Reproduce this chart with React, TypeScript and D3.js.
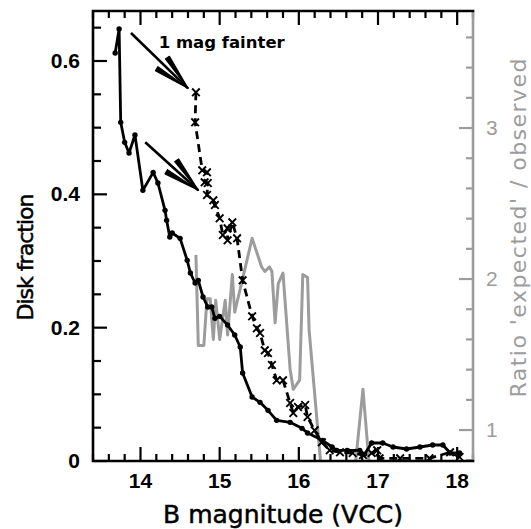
import React from "react";
import * as d3 from "d3";

// Observed disk fraction vs B magnitude (solid, dots)
const solidMag = [13.68, 13.73, 13.75, 13.8, 13.855, 13.93, 14.03, 14.16, 14.22, 14.31, 14.33, 14.37, 14.4, 14.5, 14.59, 14.63, 14.69, 14.73, 14.79, 14.85, 14.9, 14.94, 15.0, 15.1, 15.19, 15.26, 15.29, 15.41, 15.51, 15.61, 15.72, 15.89, 16.04, 16.11, 16.3, 16.42, 16.48, 16.61, 16.77, 16.83, 16.92, 17.06, 17.19, 17.36, 17.53, 17.69, 17.82, 17.91, 18.03];
const solidFrac = [0.612, 0.648, 0.508, 0.478, 0.462, 0.489, 0.406, 0.433, 0.417, 0.376, 0.361, 0.336, 0.342, 0.334, 0.301, 0.282, 0.267, 0.271, 0.246, 0.231, 0.231, 0.214, 0.217, 0.204, 0.189, 0.171, 0.132, 0.096, 0.088, 0.076, 0.061, 0.058, 0.049, 0.042, 0.031, 0.021, 0.016, 0.016, 0.016, 0.01, 0.027, 0.027, 0.021, 0.018, 0.021, 0.024, 0.024, 0.012, 0.012];

// 'Expected' disk fraction, 1 mag fainter (dashed, crosses)
const dashedMag = [14.7, 14.69, 14.78, 14.84, 14.81, 14.85, 14.84, 14.92, 14.94, 15.0, 15.04, 15.1, 15.1, 15.16, 15.22, 15.29, 15.41, 15.47, 15.51, 15.57, 15.61, 15.66, 15.72, 15.8, 15.89, 15.93, 15.99, 16.08, 16.11, 16.2, 16.29, 16.39, 16.52, 16.68, 16.81, 16.92, 16.99, 17.02, 17.28, 17.65, 17.91, 18.03];
const dashedFrac = [0.553, 0.508, 0.436, 0.433, 0.418, 0.417, 0.399, 0.391, 0.384, 0.364, 0.339, 0.349, 0.331, 0.358, 0.334, 0.271, 0.217, 0.199, 0.192, 0.166, 0.162, 0.144, 0.121, 0.121, 0.087, 0.072, 0.081, 0.084, 0.066, 0.046, 0.028, 0.016, 0.013, 0.012, 0.009, 0.012, 0.016, 0.004, 0.004, 0.004, 0.013, 0.006];

// Ratio 'expected' / observed (grey, right axis)
const ratioMag = [14.7, 14.73, 14.8, 14.84, 14.88, 14.92, 14.95, 15.0, 15.07, 15.1, 15.16, 15.19, 15.41, 15.53, 15.57, 15.63, 15.66, 15.7, 15.74, 15.8, 15.89, 15.93, 16.01, 16.05, 16.11, 16.13, 16.29, 16.5, 16.7, 16.81, 16.9, 17.5, 18.0];
const ratioVal = [2.16, 1.56, 1.56, 1.87, 1.87, 1.6, 1.86, 1.6, 1.86, 1.63, 2.03, 1.78, 2.27, 2.08, 2.05, 2.08, 2.05, 1.71, 1.97, 2.04, 1.4, 1.27, 1.33, 2.03, 2.01, 1.66, 0.7, 0.6, 0.7, 1.27, 0.7, 0.6, 0.6];

const xMajorTicks = [14, 15, 16, 17, 18];
const xTickLabels = ["14", "15", "16", "17", "18"];
const yMajorTicks = [0, 0.2, 0.4, 0.6];
const yTickLabels = ["0", "0.2", "0.4", "0.6"];
const rMajorTicks = [1, 2, 3];
const rTickLabels = ["1", "2", "3"];

// annotation arrows [tailMag, tailFrac, tipMag, tipFrac]
const arrows = [
  [13.88, 0.642, 14.6, 0.559],
  [14.06, 0.478, 14.73, 0.406],
];

const GREY = "#9c9c9c";

export default function App() {
  const W = 531, H = 529;
  const L = 93, R = 473, T = 11, B = 461;
  const x = d3.scaleLinear().domain([13.4, 18.2]).range([L, R]);
  const y = d3.scaleLinear().domain([0, 0.675]).range([B, T]);
  const yr = d3.scaleLinear().domain([0.795, 3.775]).range([B, T]);

  const xMinor = d3.range(0, 25).map((i) => +(13.4 + 0.2 * i).toFixed(2));
  const yMinor = d3.range(0, 14).map((i) => +(0.05 * i).toFixed(2));
  const rMinor = d3.range(0, 15).map((i) => +(0.8 + 0.2 * i).toFixed(2));
  const isInt = (v: number) => Math.abs(v - Math.round(v)) < 1e-6;
  const isY = (v: number) => Math.abs(v / 0.2 - Math.round(v / 0.2)) < 1e-6;

  const solid = solidMag.map((m, i) => [m, solidFrac[i]] as [number, number]);
  const dashed = dashedMag.map((m, i) => [m, dashedFrac[i]] as [number, number]);
  const ratio = ratioMag.map((m, i) => [m, ratioVal[i]] as [number, number]);

  const line = d3.line<[number, number]>().x((d) => x(d[0])).y((d) => y(d[1]));
  const rline = d3.line<[number, number]>().x((d) => x(d[0])).y((d) => yr(d[1]));

  const arrowEls = arrows.map((a, k) => {
    const x0 = x(a[0]), y0 = y(a[1]), x1 = x(a[2]), y1 = y(a[3]);
    const ang = Math.atan2(y0 - y1, x0 - x1);
    const len = 37, half = 0.21;
    const barbs = [ang + half, ang - half].map((an) => {
      const ex = x1 + len * Math.cos(an), ey = y1 + len * Math.sin(an);
      const px = -Math.sin(an) * 2.4, py = Math.cos(an) * 2.4;
      return `M${x1},${y1}L${ex + px},${ey + py}L${ex - px},${ey - py}Z`;
    });
    return (
      <g key={k}>
        <line x1={x0} y1={y0} x2={x1} y2={y1} stroke="black" strokeWidth={2.6} />
        {barbs.map((p, j) => (
          <path key={j} d={p} fill="black" stroke="black" strokeWidth={1.2} strokeLinejoin="round" />
        ))}
      </g>
    );
  });

  return (
    <svg width={W} height={H} style={{ position: "absolute", left: 0, top: 0, background: "white" }}>
      <defs>
        <clipPath id="plotclip">
          <rect x={L} y={T} width={R - L} height={B - T} />
        </clipPath>
      </defs>
      <rect x={0} y={0} width={W} height={H} fill="white" />

      {/* grey ratio curve */}
      <path d={rline(ratio) || ""} fill="none" stroke={GREY} strokeWidth={3} strokeLinejoin="round" clipPath="url(#plotclip)" />

      {/* dashed expected curve */}
      <g clipPath="url(#plotclip)">
        <path d={line(dashed) || ""} fill="none" stroke="black" strokeWidth={2.8} strokeDasharray="8,5" />
        {dashed.map((d, i) => {
          const cx = x(d[0]), cy = y(d[1]), s = 3.8;
          return (
            <path key={i} d={`M${cx - s},${cy - s}L${cx + s},${cy + s}M${cx - s},${cy + s}L${cx + s},${cy - s}`} stroke="black" strokeWidth={1.9} />
          );
        })}
      </g>

      {/* solid observed curve */}
      <g clipPath="url(#plotclip)">
        <path d={line(solid) || ""} fill="none" stroke="black" strokeWidth={2.8} strokeLinejoin="round" />
        {solid.map((d, i) => (
          <circle key={i} cx={x(d[0])} cy={y(d[1])} r={2.7} fill="black" />
        ))}
      </g>

      {arrowEls}
      <text x={x(14.23)} y={y(0.619)} fontFamily="DejaVu Sans" fontWeight="bold" fontSize={16.5} fill="black">1 mag fainter</text>

      {/* x ticks bottom & top */}
      {xMinor.map((v, i) => {
        const len = isInt(v) ? 14 : 7;
        return (
          <g key={i}>
            <line x1={x(v)} x2={x(v)} y1={B} y2={B - len} stroke="black" strokeWidth={2.2} />
            <line x1={x(v)} x2={x(v)} y1={T} y2={T + len} stroke="black" strokeWidth={2.2} />
          </g>
        );
      })}
      {/* left y ticks */}
      {yMinor.map((v, i) => {
        const len = isY(v) ? 14 : 8;
        return <line key={i} x1={L} x2={L + len} y1={y(v)} y2={y(v)} stroke="black" strokeWidth={2.2} />;
      })}
      {/* right ratio ticks */}
      {rMinor.map((v, i) => {
        const len = isInt(v) ? 14 : 7;
        return <line key={i} x1={R} x2={R - len} y1={yr(v)} y2={yr(v)} stroke={GREY} strokeWidth={2.2} />;
      })}

      {/* frame */}
      <line x1={R} x2={R} y1={T} y2={B} stroke={GREY} strokeWidth={2.6} />
      <path d={`M${R},${T}L${L},${T}L${L},${B}L${R},${B}`} fill="none" stroke="black" strokeWidth={2.6} strokeLinecap="square" />

      {/* tick labels */}
      {xMajorTicks.map((v, i) => (
        <text key={i} x={x(v)} y={488} textAnchor="middle" fontFamily="Liberation Sans" fontWeight="bold" fontSize={21} fill="black">{xTickLabels[i]}</text>
      ))}
      {yMajorTicks.map((v, i) => (
        <text key={i} x={80} y={y(v) + 7} textAnchor="end" fontFamily="Liberation Sans" fontWeight="bold" fontSize={21} fill="black">{yTickLabels[i]}</text>
      ))}
      {rMajorTicks.map((v, i) => (
        <text key={i} x={486} y={yr(v) + 7} textAnchor="start" fontFamily="Liberation Sans" fontSize={21} fill={GREY}>{rTickLabels[i]}</text>
      ))}

      {/* axis titles */}
      <text x={283} y={523} textAnchor="middle" fontFamily="DejaVu Sans" fontSize={25} fill="black" stroke="black" strokeWidth={0.5}>B magnitude (VCC)</text>
      <text transform={`translate(33,257) rotate(-90)`} textAnchor="middle" fontFamily="DejaVu Sans" fontSize={22} fill="black" stroke="black" strokeWidth={0.5} textLength={127}>Disk fraction</text>
      <text transform={`translate(526,228) rotate(-90)`} textAnchor="middle" fontFamily="DejaVu Sans" fontSize={22} fill={GREY} textLength={339}>Ratio 'expected' / observed</text>
    </svg>
  );
}
